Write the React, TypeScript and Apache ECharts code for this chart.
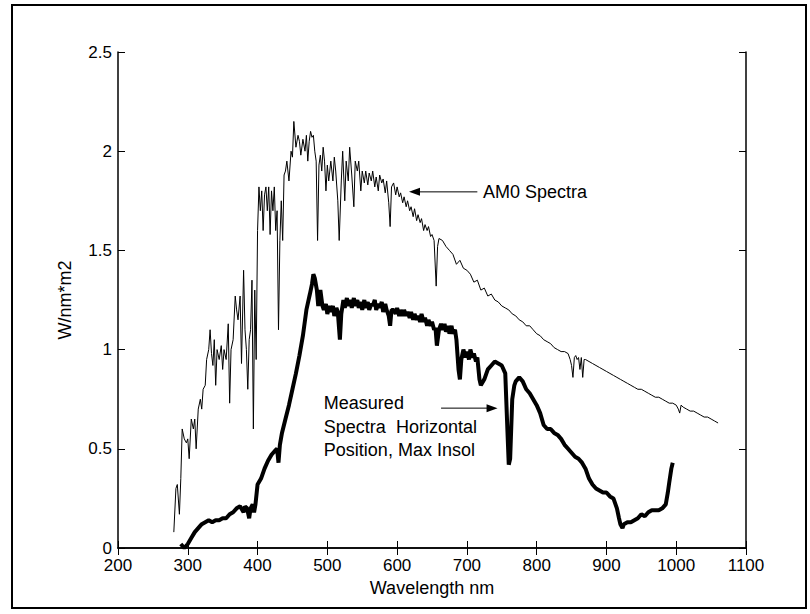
import React, { useEffect, useRef } from "react";
import * as echarts from "echarts";

// AM0 spectrum (wavelength nm, W/nm*m2)
const am0Wavelength = [
  280, 283, 285, 288, 290, 292, 295, 298, 300, 302, 305, 308, 310, 312, 315, 318, 320, 322, 325, 327,
  330, 332, 334, 336, 338, 340, 342, 345, 348, 350, 352, 355, 358, 360, 362, 365, 368, 370, 372, 375,
  377, 380, 382, 384, 386, 388, 390, 392, 394, 396, 398, 400, 402, 404, 406, 408, 410, 412, 414, 416,
  418, 420, 422, 424, 426, 428, 430, 432, 434, 436, 438, 440, 442, 445, 448, 450, 452, 455, 458, 460,
  462, 465, 468, 470, 472, 474, 476, 478, 480, 482, 484, 486, 488, 490, 492, 494, 496, 498, 500, 502,
  505, 508, 510, 512, 515, 517, 520, 522, 525, 527, 530, 532, 535, 538, 540, 543, 545, 548, 550, 553,
  555, 558, 560, 563, 565, 568, 570, 573, 575, 578, 580, 583, 585, 588, 590, 592, 595, 598, 600, 603,
  605, 608, 610, 613, 615, 618, 620, 623, 625, 628, 630, 633, 635, 638, 640, 643, 645, 648,
  650, 653, 656, 658, 660, 665, 670, 675, 680, 685, 690, 695, 700, 705, 710, 715, 720, 725, 730, 735,
  740, 745, 750, 755, 760, 765, 770, 775, 780, 785, 790, 795, 800, 805, 810, 815, 820, 825, 830, 835,
  840, 845, 848, 850, 852, 854, 856, 858, 860, 862, 864, 866, 868, 870, 875, 880, 885, 890, 895, 900,
  905, 910, 915, 920, 925, 930, 935, 940, 945, 950, 955, 960, 965, 970, 975, 980, 985, 990, 995, 1000,
  1003, 1005, 1007, 1010, 1015, 1020, 1025, 1030, 1035, 1040, 1045, 1050, 1055, 1060,
];
const am0Irradiance = [
  0.08, 0.3, 0.32, 0.17, 0.35, 0.6, 0.55, 0.53, 0.55, 0.45, 0.65, 0.6, 0.65, 0.5, 0.7, 0.75, 0.7, 0.8, 0.82, 0.95,
  1.0, 1.1, 0.98, 0.92, 1.05, 0.82, 1.0, 0.95, 1.02, 0.9, 1.0, 0.95, 1.13, 0.73, 1.0, 1.05, 1.27, 1.2, 1.15, 1.27,
  0.93, 1.4, 1.1, 1.0, 0.8, 1.05, 1.1, 1.35, 0.6, 1.3, 0.95, 1.6, 1.82, 1.7, 1.8, 1.6, 1.78, 1.82, 1.7, 1.82,
  1.58, 1.8, 1.7, 1.82, 1.6, 1.7, 1.1, 1.55, 1.75, 1.55, 1.88, 1.9, 1.95, 1.85, 2.0, 1.97, 2.15, 2.02, 2.08, 2.05,
  1.98, 2.06, 2.0, 2.08, 1.95, 2.05, 2.1, 2.07, 2.08, 2.0, 1.95, 1.55, 1.93, 1.98, 1.9, 2.02, 1.95, 1.8, 1.93, 1.85,
  1.95, 1.85, 1.97, 1.9, 1.75, 1.55, 1.85, 2.0, 1.75, 1.95, 1.85, 2.02, 1.88, 1.72, 1.95, 1.9, 1.95, 1.8, 1.9, 1.84,
  1.9, 1.83, 1.89, 1.85, 1.9, 1.82, 1.87, 1.8, 1.88, 1.84, 1.86, 1.79, 1.85, 1.74, 1.62, 1.82, 1.84, 1.78, 1.82, 1.77,
  1.79, 1.74, 1.77, 1.72, 1.75, 1.7, 1.72, 1.67, 1.71, 1.65, 1.68, 1.64, 1.66, 1.6, 1.63, 1.6, 1.62, 1.57,
  1.58, 1.55, 1.32, 1.52, 1.56, 1.55, 1.52, 1.5, 1.48, 1.43, 1.45, 1.41, 1.4, 1.38, 1.34, 1.35, 1.3, 1.31, 1.27, 1.28,
  1.25, 1.24, 1.22, 1.21, 1.2, 1.18, 1.17, 1.15, 1.14, 1.12, 1.12, 1.1, 1.08, 1.07, 1.05, 1.04, 1.03, 1.01, 1.0, 0.99,
  0.99, 0.98, 0.95, 0.92, 0.86, 0.96, 0.97, 0.95, 0.96, 0.9, 0.96, 0.86, 0.95, 0.95, 0.94, 0.93, 0.92, 0.91, 0.9, 0.89,
  0.88, 0.87, 0.86, 0.85, 0.84, 0.83, 0.82, 0.81, 0.8, 0.8, 0.79, 0.78, 0.77, 0.76, 0.76, 0.75, 0.74, 0.73, 0.73, 0.72,
  0.7, 0.68, 0.72, 0.71, 0.7, 0.69, 0.69, 0.68, 0.67, 0.66, 0.66, 0.65, 0.64, 0.63,
];

// Measured spectrum, horizontal position, max insolation
const measWavelength = [
  290, 295, 300, 305, 310, 315, 320, 325, 330, 335, 340, 345, 350, 355, 360, 365, 370, 375, 380, 382,
  385, 388, 390, 393, 395, 397, 400, 405, 410, 415, 420, 425, 428, 430, 432, 435, 440, 445, 450, 455,
  460, 465, 470, 475, 478, 480, 482, 485, 487, 490, 493, 495, 498, 500, 503, 505, 508, 510, 513, 515,
  518, 520, 523, 525, 528, 530, 533, 535, 538, 540, 543, 545, 548, 550, 553, 555, 558, 560, 563, 565,
  568, 570, 573, 575, 578, 580, 583, 585, 588, 590, 592, 595, 598, 600, 603, 605, 608, 610, 613, 615,
  618, 620, 623, 625, 628, 630, 633, 635, 638, 640, 643, 645, 648, 650, 653, 655, 657, 660, 663, 665,
  668, 670, 673, 675, 678, 680, 683, 685, 688, 690, 692, 695, 698, 700, 703, 705, 708, 710, 713, 715,
  718, 720, 725, 730, 735, 740, 745, 750, 755, 758, 760, 762, 765, 768, 770, 775, 780, 785,
  790, 795, 800, 805, 810, 815, 820, 825, 830, 835, 840, 845, 850, 855, 860, 865, 870, 875, 880, 885,
  890, 895, 900, 905, 910, 915, 918, 920, 923, 925, 930, 935, 940, 945, 950, 955, 960, 965, 970, 975,
  980, 985, 988, 990, 993, 995,
];
const measIrradiance = [
  0.02, 0.0, 0.02, 0.05, 0.08, 0.1, 0.12, 0.13, 0.14, 0.13, 0.14, 0.14, 0.15, 0.15, 0.17, 0.18, 0.2, 0.21, 0.18, 0.21,
  0.2, 0.15, 0.2, 0.22, 0.18, 0.22, 0.32, 0.35, 0.4, 0.44, 0.47, 0.49, 0.5, 0.43, 0.52, 0.58, 0.65, 0.72, 0.8, 0.88,
  0.97, 1.07, 1.2, 1.28, 1.33, 1.38, 1.36, 1.3, 1.22, 1.3, 1.22, 1.2, 1.23, 1.18, 1.22, 1.19, 1.22, 1.17, 1.21, 1.19,
  1.05, 1.18, 1.25, 1.21, 1.26, 1.22, 1.25, 1.21, 1.26, 1.22, 1.25, 1.21, 1.24, 1.2, 1.25, 1.21, 1.24, 1.2, 1.23, 1.22,
  1.25, 1.2, 1.23, 1.21, 1.24, 1.19, 1.23, 1.2, 1.17, 1.12, 1.2, 1.2, 1.18, 1.21, 1.17, 1.2, 1.17, 1.2, 1.17, 1.19,
  1.16, 1.19, 1.15, 1.18, 1.15, 1.17, 1.14, 1.18, 1.14, 1.16, 1.12, 1.15, 1.12, 1.14, 1.1, 1.11, 1.02, 1.1, 1.13, 1.1,
  1.13, 1.09, 1.12, 1.08, 1.12, 1.08, 1.1, 1.05, 0.9, 0.85, 0.95, 1.0, 0.96, 0.99, 0.95, 1.0, 0.96, 0.98, 0.94, 0.96,
  0.85, 0.82, 0.85, 0.9, 0.92, 0.94, 0.93, 0.92, 0.88, 0.6, 0.42, 0.45, 0.75, 0.82, 0.84, 0.86, 0.84, 0.8,
  0.78, 0.75, 0.72, 0.68, 0.62, 0.6, 0.6, 0.58, 0.57, 0.55, 0.52, 0.5, 0.48, 0.46, 0.45, 0.43, 0.4, 0.35, 0.32, 0.3,
  0.29, 0.28, 0.28, 0.26, 0.25, 0.2, 0.15, 0.12, 0.1, 0.12, 0.13, 0.13, 0.14, 0.15, 0.17, 0.16, 0.18, 0.19, 0.19, 0.19,
  0.2, 0.22, 0.28, 0.33, 0.4, 0.43,
];

const xTickMin = 200;
const xTickMax = 1100;
const xTickStep = 100;
const yTickMin = 0;
const yTickMax = 2.5;
const yTickStep = 0.5;

const am0Label = "AM0 Spectra";
const measLabelLines = ["Measured", "Spectra  Horizontal", "Position, Max Insol"];

const FONT = "'Liberation Sans', Arial, Helvetica, sans-serif";

export default function App() {
  const ref = useRef<HTMLDivElement | null>(null);

  useEffect(() => {
    document.body.style.margin = "0";
    if (!ref.current) return;
    const chart = echarts.init(ref.current, undefined, { renderer: "svg" });

    const axisCommon = {
      type: "value" as const,
      axisLine: { show: true, lineStyle: { color: "#000", width: 1.5 } },
      axisTick: { show: true, inside: true, length: 7, lineStyle: { color: "#000", width: 1 } },
      splitLine: { show: false },
    };
    const plainFmt = (v: number) => String(v);

    chart.setOption({
      animation: false,
      backgroundColor: "#fff",
      grid: { left: 118, right: 64, top: 52, bottom: 66, containLabel: false },
      xAxis: [
        {
          ...axisCommon,
          position: "bottom",
          min: xTickMin,
          max: xTickMax,
          interval: xTickStep,
          axisLabel: { color: "#000", fontSize: 17, fontFamily: FONT, margin: 9, formatter: plainFmt },
          name: "Wavelength nm",
          nameLocation: "middle",
          nameGap: 30,
          nameTextStyle: { color: "#000", fontSize: 18, fontFamily: FONT },
        },
        {
          ...axisCommon,
          position: "top",
          min: xTickMin,
          max: xTickMax,
          interval: xTickStep,
          axisLabel: { show: false },
        },
      ],
      yAxis: [
        {
          ...axisCommon,
          position: "left",
          min: yTickMin,
          max: yTickMax,
          interval: yTickStep,
          axisLabel: { color: "#000", fontSize: 17, fontFamily: FONT, margin: 6, formatter: plainFmt },
          name: "W/nm*m2",
          nameLocation: "middle",
          nameGap: 44,
          nameTextStyle: { color: "#000", fontSize: 18, fontFamily: FONT },
        },
        {
          ...axisCommon,
          position: "right",
          min: yTickMin,
          max: yTickMax,
          interval: yTickStep,
          axisLabel: { show: false },
        },
      ],
      series: [
        {
          name: "AM0 Spectra",
          type: "line",
          xAxisIndex: 0,
          yAxisIndex: 0,
          showSymbol: false,
          symbol: "none",
          lineStyle: { color: "#000", width: 1 },
          data: am0Wavelength.map((w, i) => [w, am0Irradiance[i]]),
        },
        {
          name: "Measured",
          type: "line",
          xAxisIndex: 0,
          yAxisIndex: 0,
          showSymbol: false,
          symbol: "none",
          lineStyle: { color: "#000", width: 4 },
          data: measWavelength.map((w, i) => [w, measIrradiance[i]]),
        },
      ],
    });

    const px = (x: number, y: number) =>
      chart.convertToPixel({ xAxisIndex: 0, yAxisIndex: 0 }, [x, y]) as number[];

    // annotation anchors in data coordinates
    const am0Tip = px(617, 1.795);
    const am0Tail = px(715, 1.795);
    const am0Text = px(723, 1.795);
    const measTail = px(663, 0.705);
    const measTip = px(744, 0.705);
    const measText = px(495, 0.73);
    const lineGap = 23.5;

    const arrowHead = (tip: number[], dir: number) => ({
      type: "polygon",
      shape: {
        points: [
          [tip[0], tip[1]],
          [tip[0] - dir * 11, tip[1] - 4],
          [tip[0] - dir * 11, tip[1] + 4],
        ],
      },
      style: { fill: "#000" },
    });

    chart.setOption({
      graphic: [
        {
          type: "rect",
          shape: { x: 12, y: 5, width: 794, height: 603 },
          style: { fill: "none", stroke: "#000", lineWidth: 2 },
          silent: true,
        },
        {
          type: "line",
          shape: { x1: am0Tip[0] + 8, y1: am0Tip[1], x2: am0Tail[0], y2: am0Tail[1] },
          style: { stroke: "#000", lineWidth: 1 },
        },
        arrowHead(am0Tip, -1),
        {
          type: "text",
          x: am0Text[0],
          y: am0Text[1],
          style: {
            text: am0Label,
            fill: "#000",
            font: `18px ${FONT}`,
            textAlign: "left",
            textVerticalAlign: "middle",
          },
        },
        {
          type: "line",
          shape: { x1: measTail[0], y1: measTail[1], x2: measTip[0] - 8, y2: measTip[1] },
          style: { stroke: "#000", lineWidth: 1 },
        },
        arrowHead(measTip, 1),
        ...measLabelLines.map((t, i) => ({
          type: "text",
          x: measText[0],
          y: measText[1] + i * lineGap,
          style: {
            text: t,
            fill: "#000",
            font: `18px ${FONT}`,
            textAlign: "left",
            textVerticalAlign: "middle",
          },
        })),
      ],
    });

    return () => chart.dispose();
  }, []);

  return <div ref={ref} style={{ width: 810, height: 614 }} />;
}
